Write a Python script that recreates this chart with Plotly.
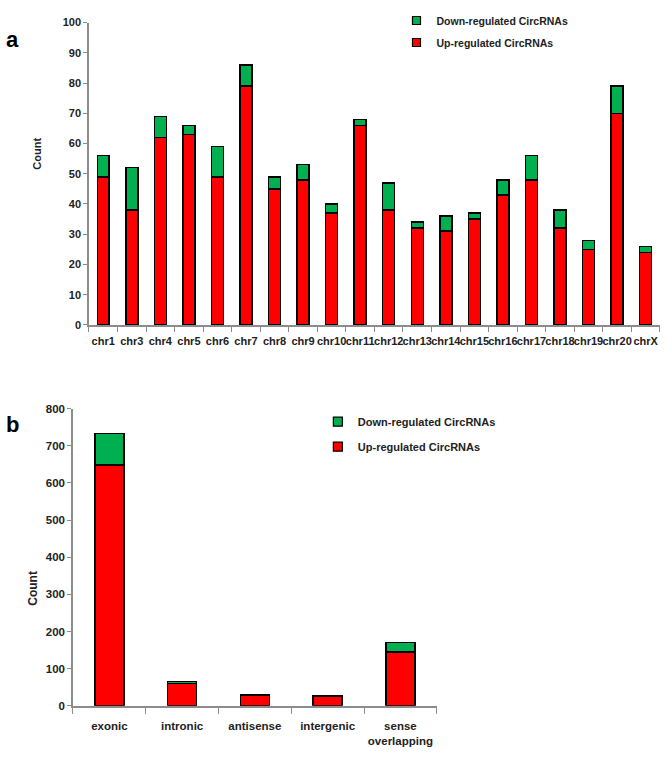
import plotly.graph_objects as go

# Panel a data
chroms = ["chr1","chr3","chr4","chr5","chr6","chr7","chr8","chr9","chr10","chr11",
          "chr12","chr13","chr14","chr15","chr16","chr17","chr18","chr19","chr20","chrX"]
up_a = [49,38,62,63,49,79,45,48,37,66,38,32,31,35,43,48,32,25,70,24]
down_a = [7,14,7,3,10,7,4,5,3,2,9,2,5,2,5,8,6,3,9,2]

# Panel b data
types = ["exonic","intronic","antisense","intergenic","sense<br>overlapping"]
up_b = [648,60,29,25,145]
down_b = [85,6,2,2,26]

series_names = ["Up-regulated CircRNAs", "Down-regulated CircRNAs"]

RED = "#ff0000"
GREEN = "#00b050"
FONT = "Liberation Sans, Arial, sans-serif"
TXT = "#222222"
AX = "#8c8c8c"

fig = go.Figure()
line = dict(color="black", width=1.5)
fig.add_trace(go.Bar(x=chroms, y=up_a, name=series_names[0], marker=dict(color=RED, line=line),
                     width=0.42, xaxis="x", yaxis="y", showlegend=False))
fig.add_trace(go.Bar(x=chroms, y=down_a, name=series_names[1], marker=dict(color=GREEN, line=line),
                     width=0.42, xaxis="x", yaxis="y", showlegend=False))
fig.add_trace(go.Bar(x=types, y=up_b, name=series_names[0], marker=dict(color=RED, line=line),
                     width=0.4, xaxis="x2", yaxis="y2", showlegend=False))
fig.add_trace(go.Bar(x=types, y=down_b, name=series_names[1], marker=dict(color=GREEN, line=line),
                     width=0.4, xaxis="x2", yaxis="y2", showlegend=False))

# legend-only entries (small square swatches)
for lg, sz, ax in [("legend", 8, ("x", "y")), ("legend2", 9, ("x2", "y2"))]:
    for i, (nm, col) in enumerate([(series_names[1], GREEN), (series_names[0], RED)]):
        fig.add_trace(go.Scatter(x=[None], y=[None], mode="markers", name=nm, legend=lg,
                                 legendgroup=f"{lg}_{i}",
                                 xaxis=ax[0], yaxis=ax[1],
                                 marker=dict(symbol="square", size=sz, color=col,
                                             line=dict(color="black", width=1.2))))

axcommon = dict(showline=True, linecolor=AX, linewidth=1.5, ticks="outside", tickcolor=AX,
                showgrid=False, zeroline=False, color=TXT)

fig.update_layout(
    width=672, height=766, margin=dict(l=0, r=0, t=0, b=0),
    paper_bgcolor="white", plot_bgcolor="white", barmode="stack",
    font=dict(family=FONT, color=TXT),
    xaxis=dict(domain=[0.1324, 0.982], anchor="y", tickson="boundaries", tickangle=0, ticklen=5,
               ticklabelstandoff=5, tickfont=dict(size=11, family=FONT, weight="bold"), **axcommon),
    yaxis=dict(domain=[0.577, 0.978], anchor="x", range=[0, 100], dtick=10, ticklen=4,
               tickfont=dict(size=11, family=FONT, weight="bold"), **axcommon),
    xaxis2=dict(domain=[0.1086, 0.650], anchor="y2", tickson="boundaries", tickangle=0, ticklen=6,
                ticklabelstandoff=9, tickfont=dict(size=11.5, family=FONT, weight="bold"), **axcommon),
    yaxis2=dict(domain=[0.0718, 0.466], anchor="x2", range=[0, 800], dtick=100, ticklen=4,
                tickfont=dict(size=11.5, family=FONT, weight="bold"), **axcommon),
    legend=dict(x=0.59, y=1.0, xanchor="left", yanchor="top", traceorder="grouped",
                font=dict(size=10.5, family=FONT, weight="bold"), bgcolor="rgba(0,0,0,0)",
                itemwidth=30, tracegroupgap=3),
    legend2=dict(x=0.473, y=0.468, xanchor="left", yanchor="top", traceorder="grouped",
                 font=dict(size=11, family=FONT, weight="bold"), bgcolor="rgba(0,0,0,0)",
                 itemwidth=30, tracegroupgap=6),
    annotations=[
        dict(text="<b>a</b>", x=0.006, y=0.955, xref="paper", yref="paper", showarrow=False,
             font=dict(size=22, family=FONT, color="black"), xanchor="left", yanchor="middle"),
        dict(text="<b>b</b>", x=0.006, y=0.445, xref="paper", yref="paper", showarrow=False,
             font=dict(size=22, family=FONT, color="black"), xanchor="left", yanchor="middle"),
        dict(text="<b>Count</b>", x=37/672, y=1 - 150/766, xref="paper", yref="paper", showarrow=False,
             textangle=-90, font=dict(size=11, family=FONT, color=TXT), xanchor="center", yanchor="middle"),
        dict(text="<b>Count</b>", x=33/672, y=1 - 592/766, xref="paper", yref="paper", showarrow=False,
             textangle=-90, font=dict(size=12, family=FONT, color=TXT), xanchor="center", yanchor="middle"),
    ],
)

fig.write_html("out.html")
